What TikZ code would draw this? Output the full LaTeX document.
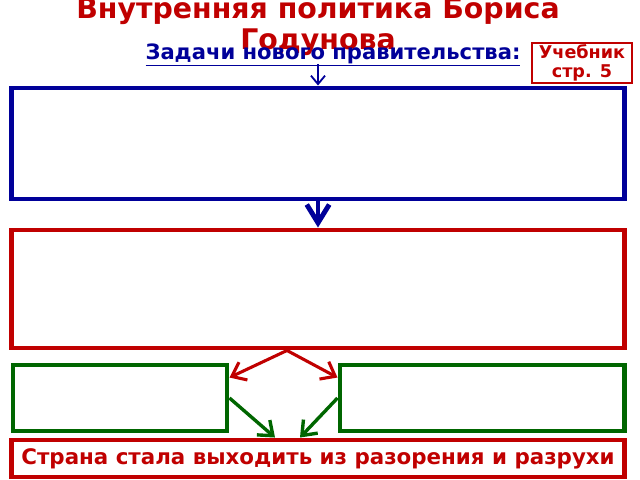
\documentclass[tikz,border=0pt]{standalone}
\usepackage{fontspec}
\setmainfont{DejaVu Sans}
\usetikzlibrary{arrows.meta,calc,positioning}
\definecolor{ttlred}{RGB}{192,0,0}
\definecolor{boxblue}{RGB}{0,0,153}
\definecolor{boxgreen}{RGB}{0,102,0}
\tikzset{
	x=0.025cm, y=-0.025cm, semithick,
}

\begin{document}
\begin{tikzpicture}[
	bigbox/.style={draw, minimum width=15.3cm, inner sep=0pt, line width=3.5pt},
	bluebox/.style={bigbox, draw=boxblue, minimum height=2.775cm},
	redbox/.style={bigbox, draw=ttlred},
	greenbox/.style={draw=boxgreen, line width=3.5pt, minimum height=1.65cm, inner sep=0pt},
	redarr/.style={draw=ttlred, line width=2.2pt, -{Straight Barb[length=9pt,width=14pt]}},
	greenarr/.style={draw=boxgreen, line width=2.4pt, -{Straight Barb[length=9pt,width=14pt]}},
	]
	\useasboundingbox (0,0) rectangle (640,480);

	%title
	\node[ttlred, align=center, font=\bfseries\fontsize{20.2}{21.5}\selectfont, anchor=base] (title) at (318,49) {Внутренняя политика Бориса\\Годунова};
	\node[boxblue, font=\bfseries\fontsize{15}{17}\selectfont, anchor=base] (task) at (333,59) {\underline{Задачи нового правительства:}};
	\node[draw=ttlred, line width=1pt, ttlred, align=center, minimum width=2.5cm, minimum height=1cm, inner sep=0pt, font=\bfseries\fontsize{12.5}{14}\selectfont] (book) at (582,63) {Учебник\\стр. 5};
	%boxes
	\node[bluebox] (tasks) at (318,143.5) {};
	\node[redbox, minimum height=2.95cm] (reform) at (318,289) {};
	\node[greenbox, minimum width=5.35cm] (left) at (120,398) {};
	\node[greenbox, minimum width=7.1cm] (right) at (482,398) {};
	\node[redbox, minimum height=0.925cm, ttlred, font=\bfseries\fontsize{15.2}{17}\selectfont] (result) at (318,458.5) {Страна стала выходить из разорения и разрухи};

	%arrows
	\draw[boxblue, line width=1.3pt, -{Straight Barb[length=6pt,width=10pt]}] ($(task.base -| tasks.north)+(0,5)$) -- (tasks.north);
	\draw[boxblue, line width=3.5pt, -{Straight Barb[length=13pt,width=16pt]}] (tasks.south) -- (reform.north);
	\draw[redarr] ($(reform.south)+(-31,0)$) -- ($(left.north east)+(0,15)$);
	\draw[redarr] ($(reform.south)+(-31,0)$) -- ($(right.north west)+(0,15)$);
	\draw[greenarr] (left.east) -- ($(result.north)+(-43,0)$);
	\draw[greenarr] (right.west) -- ($(result.north)+(-18,0)$);

\end{tikzpicture}
\end{document}
